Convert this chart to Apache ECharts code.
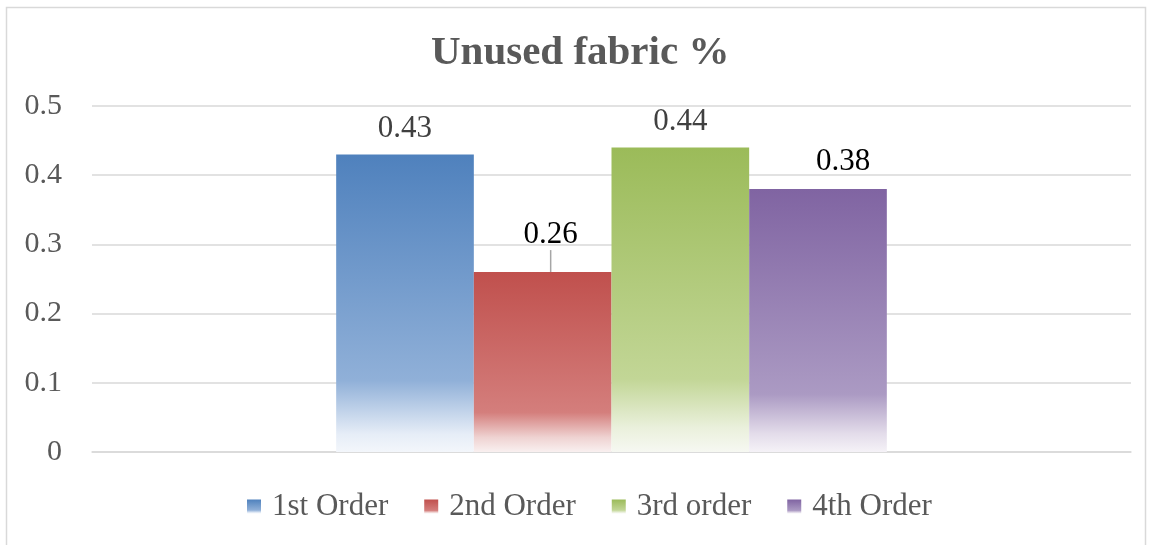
<!DOCTYPE html>
<html>
<head>
<meta charset="utf-8">
<script src="https://cdn.jsdelivr.net/npm/echarts@6/dist/echarts.min.js"></script>
<style>
html,body{margin:0;padding:0;background:#fff;}
#c{width:1152px;height:545px;}
</style>
</head>
<body>
<div id="c"></div>
<script>
const categories = [''];
const seriesNames = ['1st Order', '2nd Order', '3rd order', '4th Order'];
const order1 = [0.43];
const order2 = [0.26];
const order3 = [0.44];
const order4 = [0.38];
const yTicks = [0, 0.1, 0.2, 0.3, 0.4, 0.5];

const FONT = '"Liberation Serif","Times New Roman",serif';

function grad(c0, c1, c2, c3, s1, s2) {
  return new echarts.graphic.LinearGradient(0, 0, 0, 1, [
    {offset: 0, color: c0},
    {offset: s1, color: c1},
    {offset: s2, color: c2},
    {offset: 1, color: c3}
  ]);
}
const fills = [
  grad('#4f81bd', '#90b0d8', '#e6edf7', '#f3f6fb', 0.76, 0.94),
  grad('#c0504d', '#d47e7c', '#efd3d2', '#f9f0f0', 0.78, 0.92),
  grad('#9bbb59', '#c2d696', '#eaf0dc', '#f6f8f2', 0.76, 0.92),
  grad('#8064a2', '#ab9ac3', '#e3dcea', '#f5f2f7', 0.78, 0.93)
];
const labelColors = ['#404040', '#000000', '#404040', '#000000'];
const values = [order1, order2, order3, order4];
const layouts = [null, {dx: 8, dy: -12}, null, {dx: 25, dy: -2}];

const chart = echarts.init(document.getElementById('c'));
chart.setOption({
  backgroundColor: '#ffffff',
  animation: false,
  title: {
    text: 'Unused fabric %',
    left: 426,
    top: 28,
    textStyle: {fontFamily: FONT, fontSize: 41, fontWeight: 'bold', color: '#595959'}
  },
  graphic: [{
    type: 'rect',
    shape: {x: 6.5, y: 7.5, width: 1139, height: 560},
    style: {fill: 'none', stroke: '#d9d9d9', lineWidth: 1.5},
    silent: true
  }],
  legend: {
    bottom: 18,
    left: 242,
    itemWidth: 14,
    itemHeight: 14,
    itemGap: 36,
    icon: 'rect',
    data: seriesNames,
    textStyle: {fontFamily: FONT, fontSize: 31, color: '#595959', padding: [0, 0, 0, 6]}
  },
  grid: {left: 92, right: 21, top: 106, bottom: 93, containLabel: false},
  xAxis: {
    type: 'category',
    data: categories,
    axisLine: {show: true, lineStyle: {color: '#d9d9d9', width: 1.5}},
    axisTick: {show: false},
    axisLabel: {show: false}
  },
  yAxis: {
    type: 'value',
    min: yTicks[0],
    max: yTicks[yTicks.length - 1],
    interval: 0.1,
    axisLine: {show: false},
    axisTick: {show: false},
    splitLine: {lineStyle: {color: '#d9d9d9', width: 1.5}},
    axisLabel: {fontFamily: FONT, fontSize: 30, color: '#595959', margin: 30}
  },
  series: seriesNames.map((name, i) => ({
    name: name,
    type: 'bar',
    data: values[i],
    barGap: '0%',
    barCategoryGap: '47%',
    itemStyle: {color: fills[i]},
    label: {
      show: true,
      position: 'top',
      distance: 10,
      fontFamily: FONT,
      fontSize: 31,
      color: labelColors[i]
    },
    labelLayout: layouts[i] || undefined,
    labelLine: i === 1 ? {show: true, lineStyle: {color: '#a6a6a6', width: 1.5}} : {show: false}
  }))
});
</script>
</body>
</html>
